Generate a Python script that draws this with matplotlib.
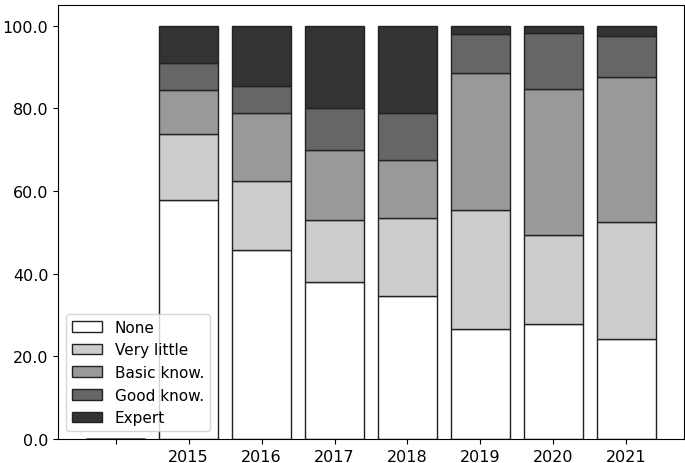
import matplotlib
matplotlib.use("Agg")
import matplotlib.pyplot as plt
import numpy as np
from matplotlib.ticker import FormatStrFormatter

years = ['', '2015', '2016', '2017', '2018', '2019', '2020', '2021']
levels = ['None', 'Very little', 'Basic know.', 'Good know.', 'Expert']
none_vals = [0, 57.9, 45.8, 38.0, 34.6, 26.6, 27.8, 24.2]
very_little = [0, 15.9, 16.7, 15.0, 18.9, 28.8, 21.6, 28.3]
basic_know = [0, 10.7, 16.4, 17.0, 14.1, 33.2, 35.3, 35.2]
good_know = [0, 6.5, 6.6, 10.1, 11.3, 9.5, 13.6, 9.9]
expert = [0, 9.0, 14.5, 19.9, 21.1, 1.9, 1.7, 2.4]

series = [none_vals, very_little, basic_know, good_know, expert]
colors = ['#ffffff', '#cccccc', '#999999', '#666666', '#333333']

fig = plt.figure(figsize=(6.85, 4.64), dpi=100)
ax = fig.add_axes([58/685, 24/464, (684-58)/685, (440-6)/464 - 0/464])
ax.set_position([58/685, 1-440/464, (684-58)/685, (440-6)/464])

x = np.arange(len(years))
bottom = np.zeros(len(years))
for vals, c, lab in zip(series, colors, levels):
    vals = np.array(vals)
    ax.bar(x, vals, 0.8, bottom=bottom, color=c, edgecolor='#222222',
           linewidth=1.0, label=lab)
    bottom += vals

ax.set_xticks(x)
ax.set_xticklabels(years, fontsize=11.5)
ax.tick_params(axis='y', labelsize=11.5)
ax.yaxis.set_major_formatter(FormatStrFormatter('%.1f'))
ax.set_ylim(0, 105)
ax.legend(loc='lower left', fontsize=11)

fig.savefig('out.png', dpi=100)
